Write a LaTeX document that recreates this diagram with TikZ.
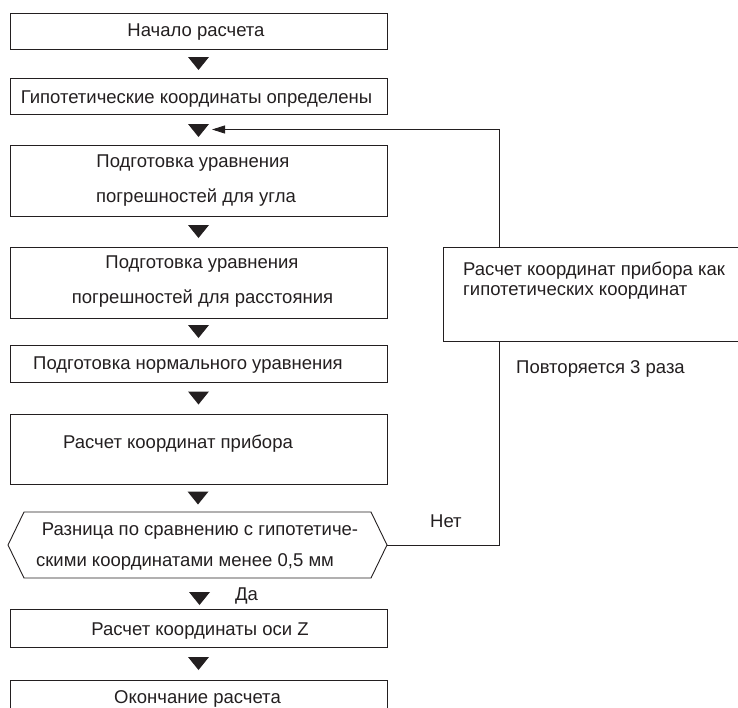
\documentclass[tikz,border=0pt]{standalone}
\usepackage{fontspec}
\setmainfont{Liberation Sans}
\usetikzlibrary{calc,arrows.meta}
\definecolor{ink}{HTML}{231F20}
\begin{document}
\begin{tikzpicture}[x=1pt,y=-1pt,
  box/.style={draw=ink,line width=0.9pt,inner sep=0pt,outer sep=0pt,anchor=north west,minimum width=377pt},
  lbl/.style={text=ink,font=\fontsize{18.5}{21}\selectfont,inner sep=0pt,anchor=base},
  lblw/.style={lbl,anchor=base west},
  link/.style={draw=ink,line width=0.9pt},
  downtri/.pic={\fill[ink] (-10.5,-6.5) -- (10.5,-6.5) -- (0,6.5) -- cycle;}
]
\useasboundingbox (0,0) rectangle (738,707);
\clip (0,0) rectangle (738,707);

% boxes
\node[box,minimum height=36pt] (b1) at (10,13) {};
\node[box,minimum height=36pt] (b2) at (10,78) {};
\node[box,minimum height=71pt] (b3) at (10,145) {};
\node[box,minimum height=71pt] (b4) at (10,247) {};
\node[box,minimum height=37pt] (b5) at (10,345) {};
\node[box,minimum height=70pt] (b6) at (10,414) {};
\node[inner sep=0pt,outer sep=0pt,minimum width=379pt,minimum height=66pt] (hx) at (197.5,545) {};
\draw[link] ([xshift=16pt]hx.north west) -- ([xshift=-16pt]hx.north east) -- (hx.east)
  -- ([xshift=-16pt]hx.south east) -- ([xshift=16pt]hx.south west) -- (hx.west) -- cycle;
\node[box,minimum height=38pt] (b8) at (10,609) {};
\node[box,minimum height=40pt] (b9) at (10,680) {};
\node[box,minimum width=300pt,minimum height=94pt] (rb) at (443,247) {};

% texts
\node[lbl] (t1) at (196,36) {Начало расчета};
\node[lbl] (t2) at (196.5,103) {Гипотетические координаты определены};
\node[lbl] (t3a) at (193,167) {Подготовка уравнения};
\node[lbl] (t3b) at (196,202) {погрешностей для угла};
\node[lbl] (t4a) at (202,268) {Подготовка уравнения};
\node[lbl] (t4b) at (202.5,303) {погрешностей для расстояния};
\node[lbl] (t5) at (188,369) {Подготовка нормального уравнения};
\node[lbl] (t6) at (178,448) {Расчет координат прибора};
\node[lbl] (h1) at (200,535.5) {Разница по сравнению с гипотетиче-};
\node[lbl] (h2) at (185,566.5) {скими координатами менее 0,5 мм};
\node[lbl] (yes) at (246.5,600) {Да};
\node[lbl] (t8) at (200,635) {Расчет координаты оси Z};
\node[lbl] (t9) at (197.5,703) {Окончание расчета};
\node[lblw] (r1) at (463,275) {Расчет координат прибора как};
\node[lblw] (r2) at (463,295) {гипотетических координат};
\node[lblw] (rep) at (516,373) {Повторяется 3 раза};
\node[lblw] (no) at (430,527) {Нет};

% down triangles
\pic at ($(b1.south)!0.5!(b2.north)$) {downtri};
\pic at ($(b2.south)!0.5!(b3.north)+(0,1)$) {downtri};
\pic at ($(b3.south)!0.5!(b4.north)$) {downtri};
\pic at ($(b4.south)!0.5!(b5.north)$) {downtri};
\pic at ($(b5.south)!0.5!(b6.north)$) {downtri};
\pic at ($(b6.south)!0.5!(hx.north)$) {downtri};
\pic at ($(hx.south)!0.5!(b8.north)+(1.5,5)$) {downtri};
\pic at ($(b8.south)!0.5!(b9.north)$) {downtri};

% loop
\coordinate (tip) at (212,129.5);
\draw[link] (hx.east) -| ($(rb.south west)+(56,0)$);
\draw[link,-{Triangle[length=13pt,width=8pt]}] ($(rb.north west)+(56,0)$) |- (tip);
\end{tikzpicture}
\end{document}
